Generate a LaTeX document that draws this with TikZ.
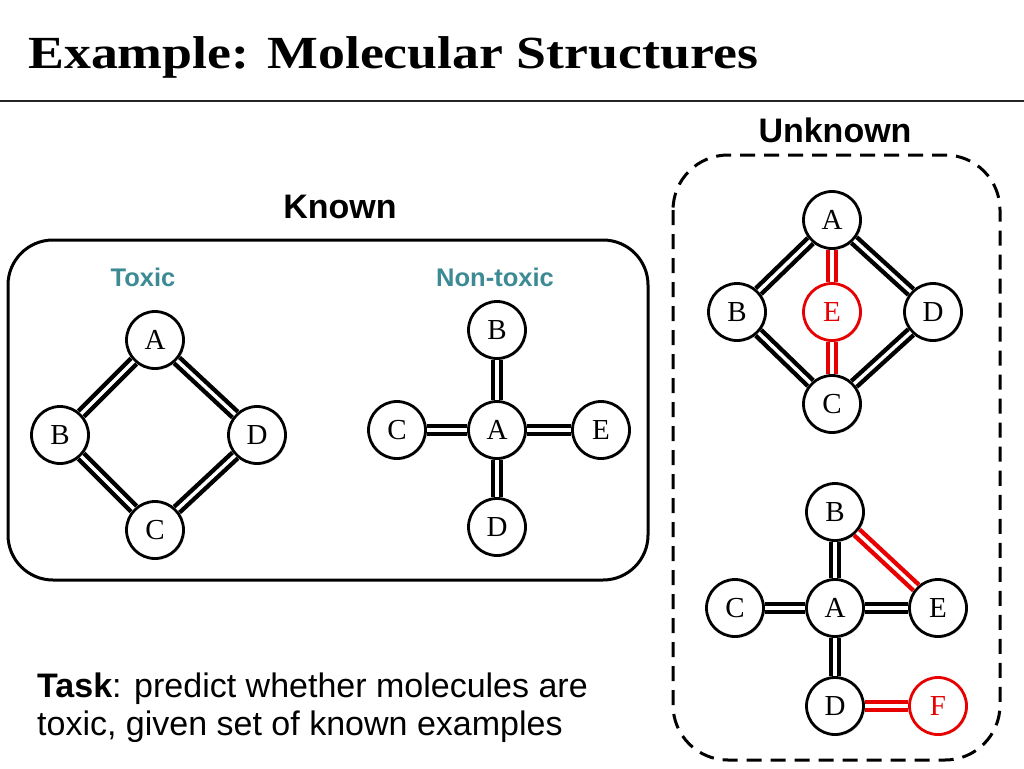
\documentclass[tikz,border=0pt]{standalone}
\usepackage{fontspec}
\setmainfont{Liberation Serif}
\setsansfont{Liberation Sans}
\newfontfamily\titlefont{Liberation Serif}[FakeStretch=1.17]
\usetikzlibrary{shadows}
\definecolor{teal1}{RGB}{60,138,148}
\definecolor{red1}{RGB}{232,0,0}
\begin{document}
\begin{tikzpicture}[x=1pt,y=-1pt,
  atom/.style={circle,draw=black,line width=2.8pt,fill=white,minimum size=57pt,inner sep=0pt,
     font=\fontsize{29}{29}\selectfont,drop shadow={shadow xshift=1.5pt,shadow yshift=-1.5pt,opacity=0.25}},
  ratom/.style={atom,draw=red1,text=red1},
  bond/.style={draw=black,line width=4.4pt,double=white,double distance=3.4pt},
  rbond/.style={bond,draw=red1},
  lbl/.style={font=\sffamily\bfseries\fontsize{34}{34}\selectfont},
  sublbl/.style={font=\sffamily\bfseries\fontsize{25.5}{25.5}\selectfont,text=teal1}]
\useasboundingbox (0,0) rectangle (1024,768);
\fill[white] (0,0) rectangle (1024,768);
% title
\node[anchor=base west,inner sep=0pt,font=\titlefont\bfseries\fontsize{46}{46}\selectfont] (title) at (28,68) {Example: Molecular Structures};
\draw[line width=2pt,black!85] (0,101) -- (1024,101);
% Known box
\draw[line width=3pt,rounded corners=45pt] (8,240) rectangle (648,580);
\node[lbl] (known) at (340,207) {Known};
\node[sublbl] (toxic) at (143,277) {Toxic};
\node[sublbl] (nontoxic) at (495,277) {Non-toxic};
% toxic molecule
\node[atom] (tA) at (155,340) {A};
\node[atom] (tB) at (60,435) {B};
\node[atom] (tD) at (257,435) {D};
\node[atom] (tC) at (155,530) {C};
\draw[bond] (tA) -- (tB);
\draw[bond] (tA) -- (tD);
\draw[bond] (tC) -- (tB);
\draw[bond] (tC) -- (tD);
% non-toxic molecule
\node[atom] (nB) at (497,330) {B};
\node[atom] (nC) at (397,430) {C};
\node[atom] (nA) at (497,430) {A};
\node[atom] (nE) at (601,430) {E};
\node[atom] (nD) at (497,527) {D};
\draw[bond] (nA) -- (nB);
\draw[bond] (nA) -- (nC);
\draw[bond] (nA) -- (nE);
\draw[bond] (nA) -- (nD);
% Unknown box
\draw[line width=3pt,dash pattern=on 15pt off 9pt,rounded corners=55pt] (673,155) rectangle (1000,760);
\node[lbl] (unknown) at (835,130) {Unknown};
% unknown 1
\node[atom] (uA) at (832,220) {A};
\node[atom] (uB) at (737,312) {B};
\node[ratom] (uE) at (832,312) {E};
\node[atom] (uD) at (933,312) {D};
\node[atom] (uC) at (832,404) {C};
\draw[bond] (uA) -- (uB);
\draw[bond] (uA) -- (uD);
\draw[bond] (uC) -- (uB);
\draw[bond] (uC) -- (uD);
\draw[rbond] (uA) -- (uE);
\draw[rbond] (uC) -- (uE);
% unknown 2
\node[atom] (vB) at (835,512) {B};
\node[atom] (vC) at (735,608) {C};
\node[atom] (vA) at (835,608) {A};
\node[atom] (vE) at (938,608) {E};
\node[atom] (vD) at (835,706) {D};
\node[ratom] (vF) at (938,706) {F};
\draw[bond] (vA) -- (vB);
\draw[bond] (vA) -- (vC);
\draw[bond] (vA) -- (vE);
\draw[bond] (vA) -- (vD);
\draw[rbond] (vB) -- (vE);
\draw[rbond] (vD) -- (vF);
% task
\node[anchor=base west,inner sep=0pt,align=left,font=\sffamily\fontsize{34}{38}\selectfont] (task) at (37,735)
  {\textbf{Task}: predict whether molecules are\\toxic, given set of known examples};
\end{tikzpicture}
\end{document}
